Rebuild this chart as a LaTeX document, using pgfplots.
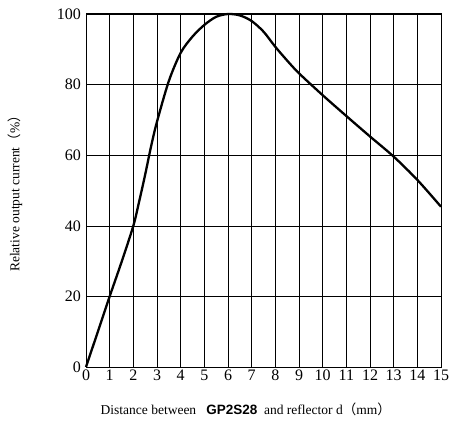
\documentclass[border=0pt]{standalone}
\usepackage{pgfplots}
\pgfplotsset{compat=1.18}
\usepackage{fontspec}
\setmainfont{Liberation Serif}
\newfontfamily\hsans{Liberation Sans}
\newfontfamily\cjk{Noto Sans CJK SC}
\begin{document}
\begin{tikzpicture}
\begin{axis}[
  name=ax,
  scale only axis,
  width=355pt, height=353pt,
  xmin=0, xmax=15, ymin=0, ymax=100,
  xtick={0,1,...,15}, ytick={0,20,...,100},
  major tick length=0pt,
  grid=major,
  grid style={black, line width=0.5pt},
  axis line style={black, line width=1pt},
  tick label style={font=\fontsize{16}{17}\selectfont},
  /pgf/number format/assume math mode=true,
  xticklabel style={inner sep=1pt, yshift=-2pt},
  yticklabel style={inner sep=1pt, xshift=-4pt},
  xlabel={Distance between \ \ {\hsans\bfseries GP2S28} \ and reflector d{\cjk（}mm{\cjk）}},
  xlabel style={font=\fontsize{13.5}{15}\selectfont, at={(axis description cs:0.45,0)}, anchor=base, yshift=-47pt},
  ylabel={Relative output current{\cjk（}\%{\cjk）}},
  ylabel style={font=\fontsize{13.5}{15}\selectfont, at={(axis description cs:0,0.5)}, anchor=center, yshift=71pt},
  clip=false,
]
\addplot[black, line width=2.3pt, smooth, tension=0.5] coordinates {
  (0,0) (0.5,10) (1,20) (1.5,29.7) (2,40) (2.25,47) (2.5,54.5) (2.75,62.5)
  (3,69.5) (3.5,81) (4,89) (4.5,93.6) (5,96.9) (5.5,99.2) (6,100)
  (6.5,99.6) (7,98) (7.5,95) (8,90.7) (8.5,86.8) (9,83.2) (10,77)
  (11,71.1) (12,65.3) (13,59.6) (14,53) (15,45.4)
};
\end{axis}
\pgfresetboundingbox
\useasboundingbox ([xshift=-86pt,yshift=-55pt]ax.south west) rectangle ([xshift=10pt,yshift=14pt]ax.north east);
\end{tikzpicture}
\end{document}
